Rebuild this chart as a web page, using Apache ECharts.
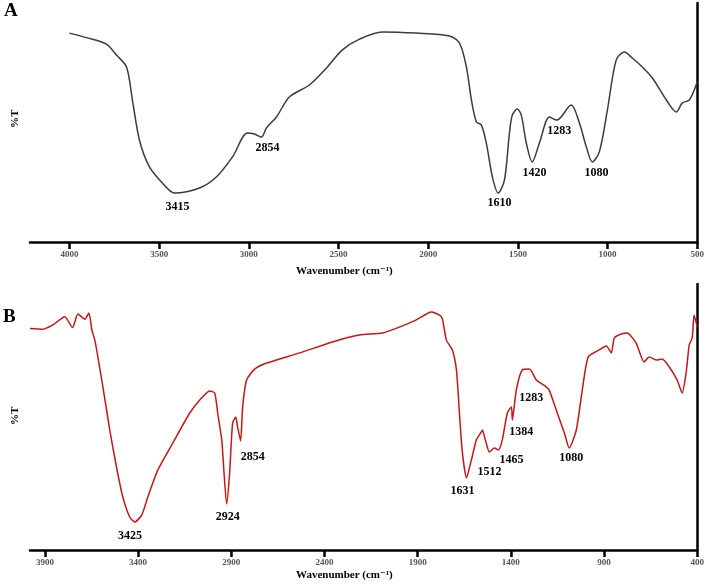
<!DOCTYPE html>
<html>
<head>
<meta charset="utf-8">
<script src="https://cdn.jsdelivr.net/npm/echarts@6/dist/echarts.min.js"></script>
<style>
  html, body { margin: 0; padding: 0; background: #fff; }
  #main { width: 707px; height: 587px; }
</style>
</head>
<body>
<div id="main"></div>
<script>
// FTIR spectra, panel A (grey) and panel B (red); wavenumber in cm-1, %T in arbitrary units
var wavenumberA = [4000, 3900, 3794, 3738, 3682, 3649, 3610, 3554, 3482, 3415, 3275, 3181, 3091, 3008, 2969, 2930, 2902, 2846, 2774, 2662, 2567, 2480, 2383, 2256, 2066, 1882, 1826, 1787, 1759, 1731, 1704, 1676, 1642, 1610, 1575, 1547, 1531, 1503, 1481, 1453, 1420, 1380, 1324, 1283, 1203, 1157, 1118, 1085, 1046, 1001, 952, 906, 862, 806, 750, 672, 617, 583, 544, 500];
var transA = [87.4, 85.4, 82.8, 78.2, 73.2, 59.4, 42.7, 31.4, 24.7, 20.5, 22.6, 27.2, 35.6, 45.6, 45.2, 43.9, 47.7, 52.3, 60.7, 65.7, 72.8, 80.3, 84.9, 87.9, 87.4, 86.2, 83.3, 73.2, 59.4, 50.2, 49.0, 41.4, 27.2, 20.5, 25.9, 45.6, 53.1, 55.6, 53.1, 41.4, 33.5, 41.4, 52.3, 51.0, 57.3, 49.8, 39.7, 33.5, 37.7, 55.2, 76.1, 79.5, 77.0, 73.2, 68.6, 59.4, 54.4, 58.2, 59.4, 66.9];

var wavenumberB = [3980, 3911, 3857, 3793, 3752, 3723, 3686, 3664, 3648, 3632, 3616, 3589, 3552, 3516, 3482, 3445, 3418, 3380, 3348, 3294, 3214, 3123, 3069, 3016, 2989, 2973, 2951, 2946, 2925, 2909, 2893, 2876, 2866, 2850, 2839, 2818, 2775, 2710, 2533, 2357, 2212, 2089, 1998, 1907, 1826, 1783, 1767, 1746, 1714, 1692, 1676, 1660, 1638, 1612, 1585, 1558, 1553, 1537, 1515, 1489, 1467, 1446, 1419, 1397, 1392, 1371, 1339, 1301, 1263, 1210, 1194, 1151, 1113, 1087, 1049, 1017, 985, 926, 888, 861, 845, 808, 776, 728, 685, 658, 620, 588, 550, 508, 481, 460, 443, 427, 417, 400];
var transB = [83.3, 83.0, 84.6, 87.7, 83.6, 88.7, 86.8, 89.1, 82.7, 78.9, 72.6, 61.3, 45.1, 31.2, 19.9, 12.4, 10.5, 13.2, 19.9, 30.1, 40.2, 51.5, 56.4, 59.8, 59.0, 51.5, 41.4, 36.5, 17.3, 28.9, 47.7, 50.0, 46.2, 41.0, 53.8, 63.9, 68.0, 70.3, 74.1, 78.2, 80.8, 81.6, 83.8, 86.5, 89.5, 88.3, 86.8, 78.9, 75.2, 67.7, 51.5, 36.5, 27.1, 33.8, 41.4, 44.4, 45.1, 41.4, 36.8, 38.3, 37.6, 41.4, 51.5, 53.8, 48.9, 60.1, 67.7, 68.0, 63.9, 61.3, 60.1, 51.5, 44.0, 38.3, 45.1, 60.1, 72.6, 75.2, 76.7, 74.1, 79.7, 81.2, 81.6, 77.8, 70.7, 72.6, 71.4, 71.8, 68.8, 63.9, 59.0, 66.5, 77.1, 79.7, 88.3, 83.8];

// peak annotations: [wavenumber, %T where the text sits, text]
var peaksA = [[3398, 14.6, '3415'], [2896, 39.3, '2854'], [1603, 16.3, '1610'], [1408, 28.9, '1420'], [1269, 46.4, '1283'], [1062, 28.9, '1080']];
var peaksB = [[3444, 5.3, '3425'], [2919, 12.4, '2924'], [2785, 35.0, '2854'], [1660, 22.2, '1631'], [1515, 29.3, '1512'], [1397, 33.8, '1465'], [1344, 44.4, '1384'], [1290, 57.1, '1283'], [1076, 34.6, '1080']];

var ticksA = [500, 1000, 1500, 2000, 2500, 3000, 3500, 4000];
var ticksB = [400, 900, 1400, 1900, 2400, 2900, 3400, 3900];

var serif = '"Liberation Serif", "DejaVu Serif", serif';

function pairs(xs, ys) {
  return xs.map(function (x, i) { return [x, ys[i]]; });
}

function xAxisFor(idx, min, max, ticks) {
  return {
    gridIndex: idx,
    type: 'value',
    inverse: true,
    min: min,
    max: max,
    axisLine: { onZero: false, lineStyle: { color: '#000', width: 2.5 } },
    axisTick: { customValues: ticks, length: 7, lineStyle: { color: '#000', width: 2.5 } },
    axisLabel: {
      customValues: ticks,
      formatter: function (v) { return String(v); },
      margin: 8,
      color: '#555',
      fontFamily: serif,
      fontWeight: 'bold',
      fontSize: 9
    },
    splitLine: { show: false }
  };
}

function yAxisFor(idx) {
  return {
    gridIndex: idx,
    type: 'value',
    position: 'right',
    min: 0,
    max: 100,
    axisLine: { show: true, onZero: false, lineStyle: { color: '#000', width: 2.5 } },
    axisTick: { show: false },
    axisLabel: { show: false },
    splitLine: { show: false }
  };
}

function peakSeries(idx, peaks) {
  return {
    type: 'scatter',
    xAxisIndex: idx,
    yAxisIndex: idx,
    symbolSize: 0,
    silent: true,
    data: peaks.map(function (p) { return [p[0], p[1], p[2]]; }),
    label: {
      show: true,
      position: 'inside',
      formatter: function (p) { return p.data[2]; },
      color: '#000',
      opacity: 1,
      fontFamily: serif,
      fontWeight: 'bold',
      fontSize: 12
    }
  };
}

var myChart = echarts.init(document.getElementById('main'));
var option = {
  animation: false,
  grid: [
    { left: 30, right: 9, top: 3, bottom: 345 },
    { left: 30, right: 9, top: 284, bottom: 37 }
  ],
  xAxis: [
    xAxisFor(0, 500, 4220, ticksA),
    xAxisFor(1, 400, 3980, ticksB)
  ],
  yAxis: [yAxisFor(0), yAxisFor(1)],
  series: [
    {
      type: 'line',
      xAxisIndex: 0,
      yAxisIndex: 0,
      data: pairs(wavenumberA, transA),
      smooth: 0.3,
      showSymbol: false,
      lineStyle: { color: '#3c3c3c', width: 1.5 }
    },
    {
      type: 'line',
      xAxisIndex: 1,
      yAxisIndex: 1,
      data: pairs(wavenumberB, transB),
      smooth: 0.2,
      showSymbol: false,
      lineStyle: { color: '#cc1414', width: 1.5 }
    },
    peakSeries(0, peaksA),
    peakSeries(1, peaksB)
  ],
  graphic: [
    { type: 'text', left: 4, top: 2, style: { text: 'A', font: 'bold 19px ' + serif, fill: '#000' } },
    { type: 'text', left: 3, top: 308, style: { text: 'B', font: 'bold 19px ' + serif, fill: '#000' } },
    { type: 'text', x: 10, y: 128, rotation: Math.PI / 2, style: { text: '%T', font: 'bold 11px ' + serif, fill: '#000' } },
    { type: 'text', x: 10, y: 425, rotation: Math.PI / 2, style: { text: '%T', font: 'bold 11px ' + serif, fill: '#000' } },
    { type: 'text', left: 296, top: 266, style: { text: 'Wavenumber (cm\u207B\u00B9)', font: 'bold 11px ' + serif, fill: '#000' } },
    { type: 'text', left: 296, top: 570, style: { text: 'Wavenumber (cm\u207B\u00B9)', font: 'bold 11px ' + serif, fill: '#000' } }
  ]
};
myChart.setOption(option);
</script>
</body>
</html>
